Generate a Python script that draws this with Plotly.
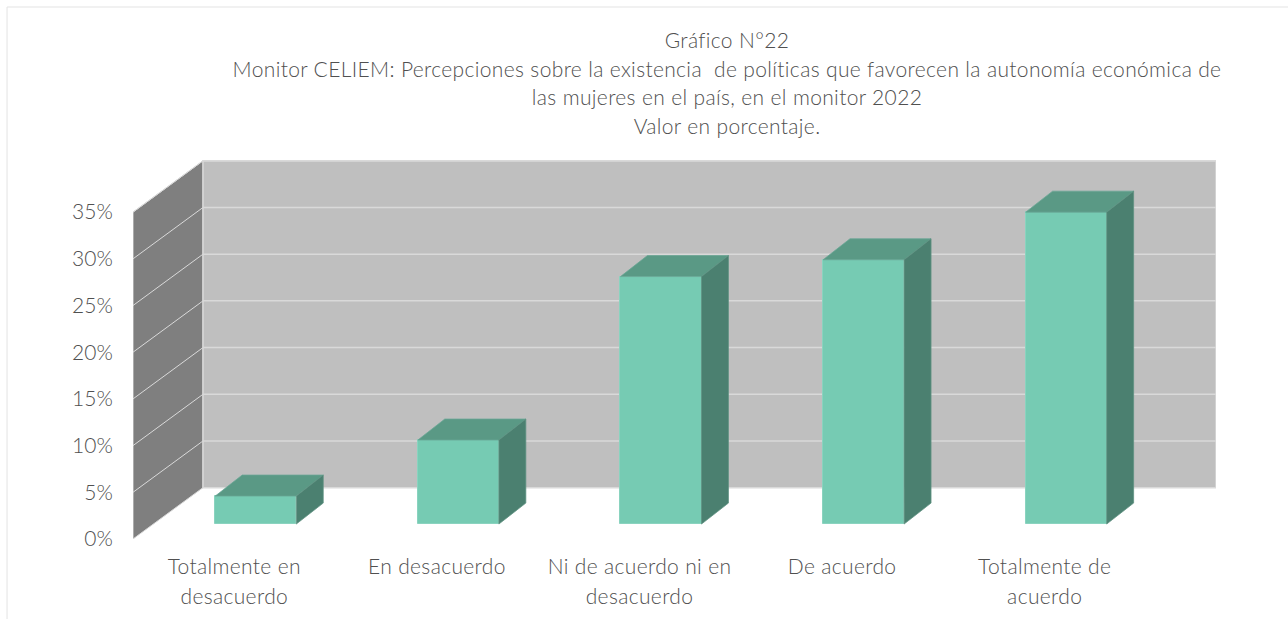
import plotly.graph_objects as go

categories = [
    ["Totalmente en", "desacuerdo"],
    ["En desacuerdo"],
    ["Ni de acuerdo ni en", "desacuerdo"],
    ["De acuerdo"],
    ["Totalmente de", "acuerdo"],
]
values = [3.0, 9.0, 26.5, 28.3, 33.4]
y_ticks = [0, 5, 10, 15, 20, 25, 30, 35]
title_lines = [
    "Gráfico N°22",
    "Monitor CELIEM: Percepciones sobre la existencia  de políticas que favorecen la autonomía económica de",
    "las mujeres en el país, en el monitor 2022",
    "Valor en porcentaje.",
]

TEXT = "#505050"
FONT = "Lato Light, Lato, sans-serif"
WALL_BACK, WALL_SIDE, GRID = "#BFBFBF", "#7F7F7F", "#D9D9D9"
FRONT, TOP, SIDE = "#76CBB3", "#5A9985", "#4B8070"

# chart box depth (in axis units)
DX, DY = 0.3455, 5.5
X0, X1 = -0.5, 4.5
# bar depth and offset from the front plane
BDX, BDY = 0.133, 2.25
BASE, OFF, BW = 1.6, 0.106, 0.4


def span(t, size=21):
    return f'<span style="font-size:{size}px;letter-spacing:0.35px">{t}</span>'


def poly(xs, ys):
    return "M" + " L".join(f"{a},{b}" for a, b in zip(xs, ys)) + " Z"


shapes = [
    dict(type="rect", xref="paper", yref="paper", x0=-0.1163, x1=1.2, y0=-0.3, y1=1.4,
         line=dict(color="#E3E3E3", width=1), layer="below"),
    dict(type="path", xref="x", yref="y", layer="below", fillcolor=WALL_SIDE,
         path=poly([X0, X0 + DX, X0 + DX, X0], [0, DY, 35 + DY, 35]),
         line=dict(color=GRID, width=1)),
    dict(type="path", xref="x", yref="y", layer="below", fillcolor=WALL_BACK,
         path=poly([X0 + DX, X1 + DX, X1 + DX, X0 + DX], [DY, DY, 35 + DY, 35 + DY]),
         line=dict(color=GRID, width=1.5)),
]
for t in y_ticks[1:]:
    shapes.append(dict(type="line", xref="x", yref="y", layer="below", x0=X0, x1=X0 + DX, y0=t, y1=t + DY,
                       line=dict(color=GRID, width=1)))
    shapes.append(dict(type="line", xref="x", yref="y", layer="below", x0=X0 + DX, x1=X1 + DX, y0=t + DY, y1=t + DY,
                       line=dict(color=GRID, width=1.5)))

fig = go.Figure()
pos = list(range(len(values)))
fig.add_trace(go.Bar(
    x=[p + OFF for p in pos], y=values, base=BASE, width=BW,
    marker=dict(color=FRONT, line=dict(color="#8AD3BF", width=1)),
    showlegend=False, hoverinfo="skip",
))
for p, v in zip(pos, values):
    l, r = p + OFF - BW / 2, p + OFF + BW / 2
    t = BASE + v
    fig.add_trace(go.Scatter(
        x=[l, r, r + BDX, l + BDX, l], y=[t, t, t + BDY, t + BDY, t],
        mode="lines", fill="toself", fillcolor=TOP, line=dict(color="#6AA795", width=0.75),
        showlegend=False, hoverinfo="skip"))
    fig.add_trace(go.Scatter(
        x=[r, r + BDX, r + BDX, r, r], y=[BASE, BASE + BDY, t + BDY, t, BASE],
        mode="lines", fill="toself", fillcolor=SIDE, line=dict(color="#5F9282", width=0.75),
        showlegend=False, hoverinfo="skip"))

fig.update_layout(
    width=1288, height=619,
    margin=dict(l=133, r=72, t=159, b=80, autoexpand=False),
    paper_bgcolor="white", plot_bgcolor="rgba(0,0,0,0)",
    font=dict(family=FONT, color=TEXT),
    shapes=shapes,
    title=dict(
        text="<br>".join(span(t) for t in title_lines),
        font=dict(family=FONT, color=TEXT, size=22),
        xref="paper", x=0.5485, xanchor="center",
        yref="container", y=0.922, yanchor="top",
    ),
    xaxis=dict(
        range=[X0, X1 + DX], showgrid=False, zeroline=False, showline=False,
        tickmode="array", tickvals=pos,
        ticktext=["<br>".join(span(t) for t in c) for c in categories],
        tickfont=dict(family=FONT, color=TEXT, size=23),
        ticks="outside", ticklen=6, tickcolor="rgba(0,0,0,0)", tickangle=0,
    ),
    yaxis=dict(
        range=[0, 40.69], showgrid=False, zeroline=False, showline=False,
        tickmode="array", tickvals=y_ticks, ticktext=[f"{t}%" for t in y_ticks],
        tickfont=dict(family=FONT, color=TEXT, size=21),
        ticks="outside", ticklen=15, tickcolor="rgba(0,0,0,0)",
    ),
    bargap=0,
)
fig.write_html("out.html", post_script="document.body.style.margin='0';",
               config={"displayModeBar": False})
